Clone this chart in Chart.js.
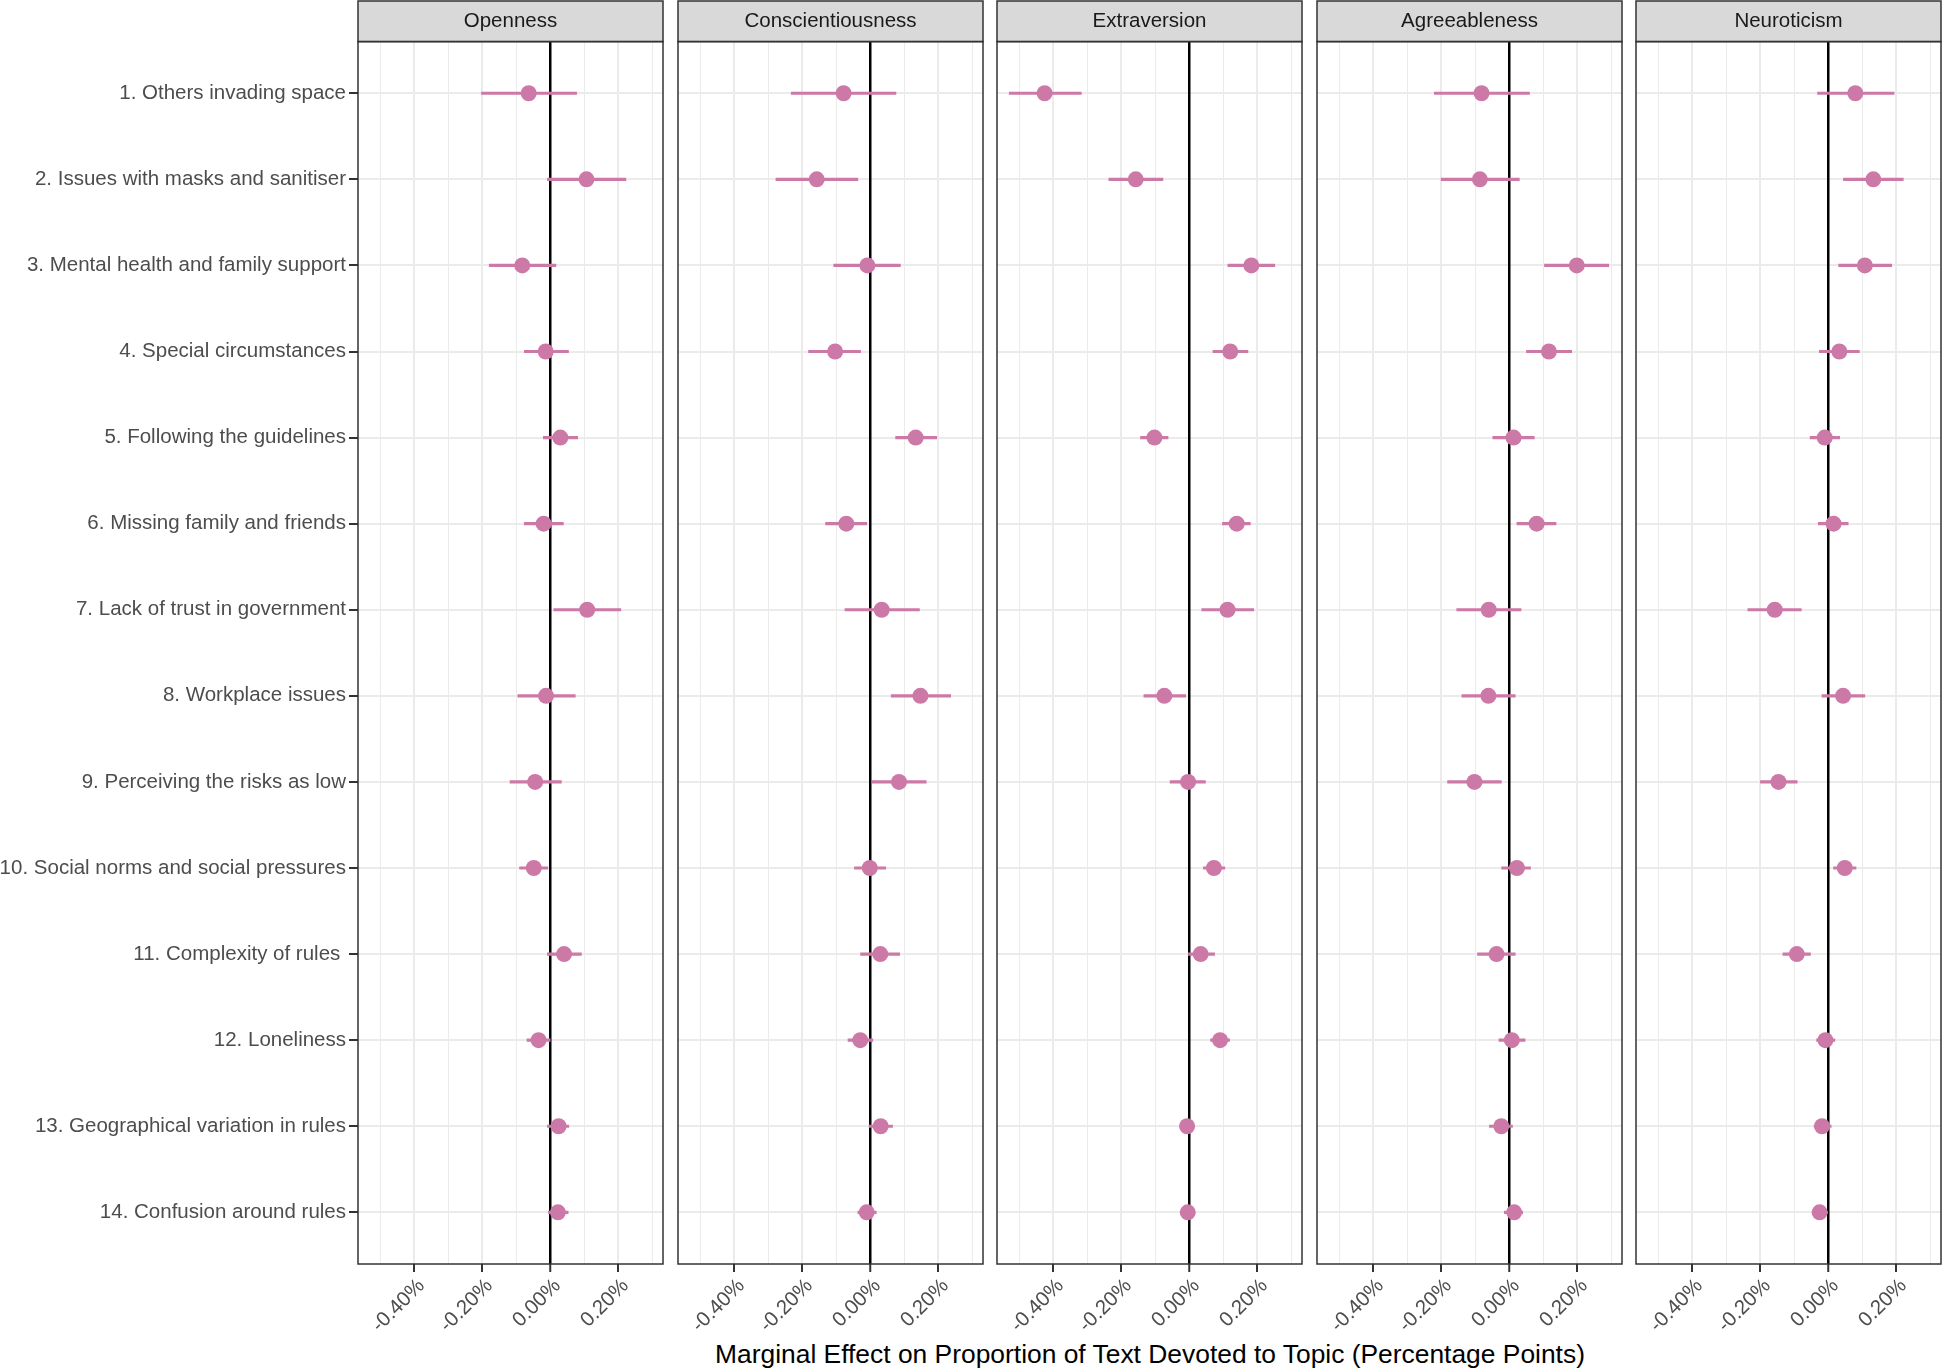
<!DOCTYPE html>
<html>
<head>
<meta charset="utf-8">
<script src="https://cdn.jsdelivr.net/npm/chart.js@4.4.1/dist/chart.umd.min.js"></script>
<style>
  html, body { margin: 0; padding: 0; background: #fff; }
  #wrap { position: relative; width: 1944px; height: 1370px; }
  #wrap canvas { position: absolute; left: 0; top: 0; }
  #xtitle {
    position: absolute; left: 358px; width: 1584px; top: 1339px;
    text-align: center; font: 26.4px "Liberation Sans", Arial, sans-serif;
    color: #000; line-height: 30px; white-space: nowrap;
  }
</style>
</head>
<body>
<div id="wrap"><div id="xtitle"></div></div>
<script>
const topics = [
  "1. Others invading space",
  "2. Issues with masks and sanitiser",
  "3. Mental health and family support",
  "4. Special circumstances",
  "5. Following the guidelines",
  "6. Missing family and friends",
  "7. Lack of trust in government",
  "8. Workplace issues",
  "9. Perceiving the risks as low",
  "10. Social norms and social pressures",
  "11. Complexity of rules ",
  "12. Loneliness",
  "13. Geographical variation in rules",
  "14. Confusion around rules"
];
const traits = ["Openness", "Conscientiousness", "Extraversion", "Agreeableness", "Neuroticism"];

// marginal effects (percentage points) with lower / upper interval bounds
const opennessEst = [-0.064, 0.106, -0.083, -0.014, 0.029, -0.020, 0.108, -0.013, -0.045, -0.049, 0.040, -0.035, 0.024, 0.022];
const opennessLo  = [-0.203, -0.009, -0.180, -0.077, -0.021, -0.077, 0.010, -0.096, -0.119, -0.091, -0.009, -0.069, -0.009, -0.006];
const opennessHi  = [0.077, 0.222, 0.016, 0.053, 0.080, 0.038, 0.207, 0.073, 0.032, -0.008, 0.091, -0.001, 0.054, 0.052];

const conscEst = [-0.079, -0.158, -0.009, -0.104, 0.133, -0.071, 0.033, 0.147, 0.084, -0.002, 0.029, -0.030, 0.030, -0.011];
const conscLo  = [-0.233, -0.278, -0.108, -0.182, 0.074, -0.132, -0.075, 0.061, 0.005, -0.047, -0.029, -0.066, -0.004, -0.037];
const conscHi  = [0.075, -0.037, 0.088, -0.029, 0.195, -0.011, 0.144, 0.236, 0.164, 0.045, 0.086, 0.007, 0.065, 0.017];

const extraEst = [-0.426, -0.158, 0.182, 0.120, -0.103, 0.139, 0.112, -0.074, -0.004, 0.072, 0.033, 0.090, -0.007, -0.005];
const extraLo  = [-0.530, -0.237, 0.113, 0.069, -0.144, 0.097, 0.036, -0.134, -0.057, 0.041, -0.003, 0.062, -0.017, -0.012];
const extraHi  = [-0.318, -0.078, 0.251, 0.172, -0.063, 0.179, 0.189, -0.011, 0.047, 0.104, 0.074, 0.118, 0.003, 0.003];

const agreeEst = [-0.082, -0.087, 0.198, 0.116, 0.012, 0.080, -0.061, -0.062, -0.103, 0.022, -0.038, 0.007, -0.024, 0.014];
const agreeLo  = [-0.221, -0.201, 0.103, 0.050, -0.049, 0.022, -0.155, -0.140, -0.182, -0.023, -0.094, -0.031, -0.059, -0.015];
const agreeHi  = [0.059, 0.029, 0.292, 0.183, 0.073, 0.137, 0.034, 0.017, -0.024, 0.062, 0.017, 0.046, 0.009, 0.039];

const neuroEst = [0.079, 0.132, 0.107, 0.032, -0.011, 0.015, -0.158, 0.043, -0.147, 0.048, -0.093, -0.009, -0.019, -0.026];
const neuroLo  = [-0.032, 0.044, 0.030, -0.027, -0.054, -0.030, -0.237, -0.019, -0.200, 0.015, -0.134, -0.035, -0.042, -0.047];
const neuroHi  = [0.193, 0.220, 0.186, 0.091, 0.033, 0.058, -0.080, 0.107, -0.092, 0.081, -0.053, 0.019, 0.008, -0.003];

const xTicks  = [-0.5, -0.4, -0.3, -0.2, -0.1, 0, 0.1, 0.2, 0.3];
const xLabels = ["", "-0.40%", "", "-0.20%", "", "0.00%", "", "0.20%", ""];
const xTitle = "Marginal Effect on Proportion of Text Devoted to Topic (Percentage Points)";

const series = [
  [opennessEst, opennessLo, opennessHi],
  [conscEst, conscLo, conscHi],
  [extraEst, extraLo, extraHi],
  [agreeEst, agreeLo, agreeHi],
  [neuroEst, neuroLo, neuroHi]
];

const FONT = '"Liberation Sans", Arial, sans-serif';
const PINK = "#cc79a7";
const W = 1944, H = 1370;
const PANEL_W = 305, PANEL_STEP = 319.6, FIRST_LEFT = 358;
const PANEL_BOTTOM = 1264;

const isMajor = v => Math.abs(Math.round(v * 10) % 2) === 0;

document.getElementById("xtitle").textContent = xTitle;

// grey strip behind the facet title + panel border
const panelPlugin = {
  id: "panelBox",
  beforeDraw(chart) {
    const { ctx, chartArea: a } = chart;
    ctx.save();
    ctx.fillStyle = "#d9d9d9";
    ctx.fillRect(a.left, 1, a.right - a.left, a.top - 1);
    ctx.restore();
  },
  afterDraw(chart) {
    const { ctx, chartArea: a } = chart;
    ctx.save();
    ctx.strokeStyle = "#333333";
    ctx.lineWidth = 1.5;
    ctx.strokeRect(a.left, 1, a.right - a.left, a.top - 1);
    ctx.strokeRect(a.left, a.top, a.right - a.left, a.bottom - a.top);
    ctx.restore();
  }
};

const wrap = document.getElementById("wrap");

traits.forEach((trait, p) => {
  const canvas = document.createElement("canvas");
  canvas.width = W;
  canvas.height = H;
  wrap.appendChild(canvas);

  const left = Math.round(FIRST_LEFT + p * PANEL_STEP);
  const right = left + PANEL_W;
  const [est, lo, hi] = series[p];

  new Chart(canvas, {
    type: "scatter",
    data: {
      datasets: [
        {
          type: "scatter",
          order: 0,
          data: est.map((v, i) => ({ x: v, y: i })),
          pointRadius: 8,
          pointHoverRadius: 8,
          backgroundColor: PINK,
          borderWidth: 0
        },
        {
          type: "bar",
          order: 1,
          indexAxis: "y",
          data: lo.map((v, i) => ({ x: [v, hi[i]], y: i })),
          backgroundColor: PINK,
          barThickness: 2.5,
          borderWidth: 0
        }
      ]
    },
    options: {
      responsive: false,
      animation: false,
      events: [],
      layout: { padding: { left: 0, right: W - right, top: 1, bottom: 0 }, autoPadding: false },
      plugins: {
        legend: { display: false },
        tooltip: { enabled: false },
        title: {
          display: true,
          text: trait,
          fullSize: false,
          color: "#1a1a1a",
          font: { size: 20.5, family: FONT, weight: "normal", lineHeight: 1.2 },
          padding: { top: 8, bottom: 8 }
        }
      },
      scales: {
        x: {
          type: "linear",
          min: -0.566,
          max: 0.331,
          offset: false,
          afterBuildTicks: sc => { sc.ticks = xTicks.map(v => ({ value: v })); },
          afterFit: sc => { sc.height = H - PANEL_BOTTOM; sc.paddingLeft = 0; sc.paddingRight = 0; },
          border: { display: false },
          grid: {
            z: -1,
            offset: false,
            color: ctx => Math.abs(ctx.tick.value) < 1e-9 ? "#000000" : "#ebebeb",
            lineWidth: ctx => Math.abs(ctx.tick.value) < 1e-9 ? 2.5 : (isMajor(ctx.tick.value) ? 2 : 1),
            tickColor: ctx => isMajor(ctx.tick.value) ? "#333333" : "rgba(0,0,0,0)",
            tickWidth: 2,
            tickLength: 8
          },
          ticks: {
            autoSkip: false,
            minRotation: 45,
            maxRotation: 45,
            padding: 2,
            labelOffset: 7,
            color: "#4d4d4d",
            font: { size: 20.5, family: FONT },
            callback: (v, i) => xLabels[i]
          }
        },
        y: {
          type: "linear",
          reverse: true,
          min: -0.6,
          max: 13.6,
          offset: false,
          afterBuildTicks: sc => { sc.ticks = topics.map((_, i) => ({ value: i })); },
          afterFit: sc => { sc.width = left; sc.paddingTop = 0; sc.paddingBottom = 0; },
          border: { display: false },
          grid: {
            z: -2,
            offset: false,
            color: "#ebebeb",
            lineWidth: 2,
            drawTicks: p === 0,
            tickColor: "#333333",
            tickWidth: 2,
            tickLength: 9
          },
          ticks: {
            display: p === 0,
            autoSkip: false,
            padding: 3,
            color: "#4d4d4d",
            font: { size: 20.5, family: FONT },
            callback: (v, i) => topics[i]
          }
        }
      }
    },
    plugins: [panelPlugin]
  });
});
</script>
</body>
</html>
